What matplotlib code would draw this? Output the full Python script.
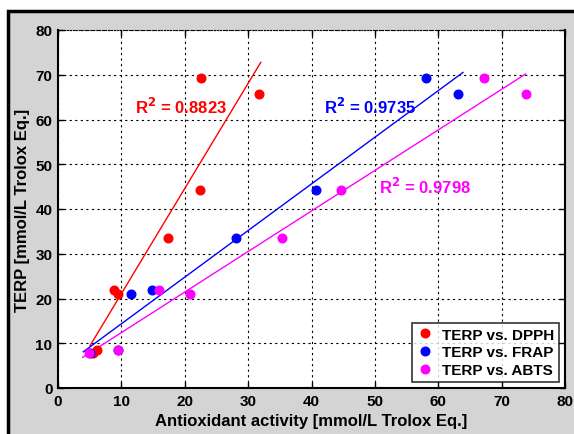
import matplotlib
matplotlib.use('Agg')
import matplotlib.pyplot as plt
from matplotlib.patches import Rectangle
import numpy as np

# ── data ────────────────────────────────────────────────────────────────────
terp = [69.3, 65.7, 44.3, 33.6, 22.0, 21.0, 8.5, 7.8]
dpph = [22.5, 31.7, 22.4, 17.4, 8.8, 9.5, 6.1, 5.5]
frap = [58.0, 63.1, 40.7, 28.1, 14.9, 11.5, 9.5, 5.0]
abts = [67.2, 73.9, 44.6, 35.4, 16.0, 20.9, 9.5, 4.95]

series_labels = ['TERP vs. DPPH', 'TERP vs. FRAP', 'TERP vs. ABTS']
series_colors = ['#ff0000', '#0000ff', '#ff00ff']

# linear fits (slope, intercept) and x-range
fit_slope = [2.35, 1.042, 0.906]
fit_icept = [-2.42, 3.93, 3.32]
fit_xmin = [5.05, 4.0, 3.9]
fit_xmax = [32.0, 63.9, 73.8]
r2_text = ['0.8823', '0.9735', '0.9798']
r2_pos = [(12.1, 63.0), (42.0, 63.1), (50.6, 45.1)]

# ── figure ──────────────────────────────────────────────────────────────────
plt.rcParams['font.family'] = ['Liberation Sans', 'DejaVu Sans']
plt.rcParams['font.weight'] = 'bold'

fig = plt.figure(figsize=(5.74, 4.35), dpi=100, facecolor='white')
fig.patches.append(Rectangle((8 / 574, -0.05), 1.1, (435 - 12) / 435 + 0.05,
                             transform=fig.transFigure, facecolor='#d4d4d4',
                             edgecolor='black', lw=2.5, zorder=-10))

ax = fig.add_axes([58 / 574, 1 - 389 / 435, (565 - 58) / 574, (389 - 31) / 435])
ax.set_facecolor('white')

for xs, c, lab in zip([dpph, frap, abts], series_colors, series_labels):
    ax.plot(xs, terp, 'o', color=c, ms=6.2, label=lab, zorder=3)

for k, c in enumerate(series_colors):
    xx = np.array([fit_xmin[k], fit_xmax[k]])
    ax.plot(xx, fit_slope[k] * xx + fit_icept[k], '-', color=c, lw=1.0, zorder=2)
    ax.text(r2_pos[k][0], r2_pos[k][1], f'R$^\\mathbf{{2}}$ = {r2_text[k]}',
            color=c, fontsize=12, fontweight='bold', va='center', ha='left')

ax.set_xlim(0, 80)
ax.set_ylim(0, 80)
ax.set_xticks(range(0, 81, 10))
ax.set_yticks(range(0, 81, 10))
ax.grid(True, color='black', ls=(0, (2, 3)), lw=0.8)
ax.tick_params(direction='in', top=True, right=True, labelsize=11, length=4,
               width=1, pad=4)
for lbl in ax.get_xticklabels() + ax.get_yticklabels():
    lbl.set_fontweight('bold')
for side in ['left', 'bottom', 'right']:
    ax.spines[side].set_linewidth(1.5)
ax.spines['top'].set_linestyle(':')

ax.set_xlabel('Antioxidant activity [mmol/L Trolox Eq.]', fontsize=12,
              fontweight='bold', labelpad=4)
ax.set_ylabel('TERP [mmol/L Trolox Eq.]', fontsize=12, fontweight='bold',
              labelpad=4)

leg = ax.legend(loc='lower right', fontsize=11, frameon=True, fancybox=False,
                edgecolor='black', handletextpad=0.5, borderpad=0.3,
                labelspacing=0.25, handlelength=1.2, borderaxespad=0.4)
leg.get_frame().set_linewidth(1.2)
for t in leg.get_texts():
    t.set_fontweight('bold')

fig.savefig('out.png', dpi=100, facecolor='white')
